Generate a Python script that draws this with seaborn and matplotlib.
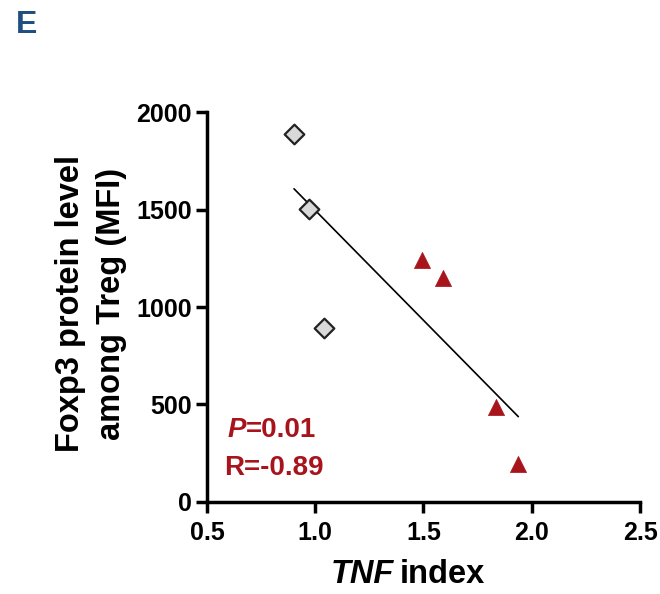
import numpy as np
import pandas as pd
import matplotlib
matplotlib.use("Agg")
import matplotlib.pyplot as plt
import seaborn as sns

# TNF index vs Foxp3 MFI among Treg cells
low_tnf_x = [0.902, 0.973, 1.039]
low_tnf_y = [1887, 1501, 892]
high_tnf_x = [1.492, 1.589, 1.835, 1.938]
high_tnf_y = [1240, 1147, 486, 195]
x_ticks = [0.5, 1.0, 1.5, 2.0, 2.5]
y_ticks = [0, 500, 1000, 1500, 2000]
p_text = "=0.01"
r_text = "R=-0.89"

sns.set_theme(style="white")
plt.rcParams["font.family"] = ["Liberation Sans", "DejaVu Sans"]
plt.rcParams["font.weight"] = "bold"
plt.rcParams["text.color"] = "black"
plt.rcParams["axes.labelcolor"] = "black"
plt.rcParams["xtick.color"] = "black"
plt.rcParams["ytick.color"] = "black"

df = pd.DataFrame({
    "tnf": low_tnf_x + high_tnf_x,
    "foxp3": low_tnf_y + high_tnf_y,
})
low = pd.DataFrame({"tnf": low_tnf_x, "foxp3": low_tnf_y})
high = pd.DataFrame({"tnf": high_tnf_x, "foxp3": high_tnf_y})

fig = plt.figure(figsize=(6.6, 5.94), dpi=100)
ax = fig.add_axes([0.3136, 0.1549, 0.6561, 0.6565])

red = "#a8141c"
sns.regplot(data=df, x="tnf", y="foxp3", ci=None, scatter=False, truncate=True,
            line_kws=dict(color="black", lw=1.2), ax=ax)
sns.scatterplot(data=low, x="tnf", y="foxp3", marker="D", s=100,
                color="#d9d9d9", edgecolor="#222222", linewidth=1.6,
                ax=ax, zorder=3)
sns.scatterplot(data=high, x="tnf", y="foxp3", marker="^", s=135,
                color=red, edgecolor=red, linewidth=0.5, ax=ax, zorder=3)

ax.set_xlim(0.5, 2.5)
ax.set_ylim(0, 2000)
ax.set_xticks(x_ticks)
ax.set_yticks(y_ticks)
ax.set_xticklabels([f"{v:.1f}" for v in x_ticks], fontsize=18, fontweight="bold")
ax.set_yticklabels([str(v) for v in y_ticks], fontsize=18, fontweight="bold")
ax.tick_params(axis="both", direction="out", length=8, width=2.5, color="black",
               labelcolor="black", bottom=True, left=True)
ax.tick_params(axis="x", pad=6)
ax.tick_params(axis="y", pad=3)
for side in ["top", "right"]:
    ax.spines[side].set_visible(False)
for side in ["left", "bottom"]:
    ax.spines[side].set_linewidth(2.5)
    ax.spines[side].set_color("black")

ax.set_xlabel("")
ax.set_ylabel("Foxp3 protein level\namong Treg (MFI)", fontsize=23.5,
              fontweight="bold", linespacing=1.4)
ax.yaxis.set_label_coords(-0.185, 0.509)
fig.text(0.597, 0.032, "TNF", fontsize=23.5, fontweight="bold", style="italic",
         ha="right", va="center")
fig.text(0.605, 0.032, "index", fontsize=23.5, fontweight="bold",
         ha="left", va="center")

ax.text(0.595, 370, "P", fontsize=20, fontweight="bold", style="italic", color=red,
        ha="left", va="center")
ax.text(0.68, 370, p_text, fontsize=20, fontweight="bold", color=red,
        ha="left", va="center")
ax.text(0.58, 175, r_text, fontsize=20, fontweight="bold", color=red,
        ha="left", va="center")

fig.text(0.024, 0.958, "E", fontsize=23, fontweight="bold", color="#1f4e80",
         ha="left", va="center")

fig.savefig("out.png", dpi=100)
